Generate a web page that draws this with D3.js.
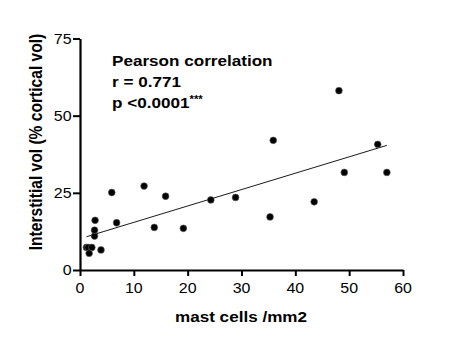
<!DOCTYPE html>
<html>
<head>
<meta charset="utf-8">
<script src="https://cdn.jsdelivr.net/npm/d3@7"></script>
<style>
  body { margin: 0; background: #fff; }
  text { font-family: "Liberation Sans", Arial, sans-serif; fill: #000; }
</style>
</head>
<body>
<div id="chart"></div>
<script>
// data
var mastCells = [1.2, 1.5, 2.2, 1.7, 2.7, 2.7, 2.8, 3.9, 5.9, 6.8, 11.9, 13.8, 15.9, 19.2, 24.3, 28.9, 35.3, 35.9, 43.5, 48.1, 49.1, 55.3, 57.0];
var interstitial = [7.3, 7.3, 7.3, 5.4, 11.0, 12.9, 16.1, 6.5, 25.1, 15.3, 27.2, 13.8, 23.9, 13.5, 22.7, 23.5, 17.2, 42.0, 22.1, 58.1, 31.6, 40.7, 31.6];
var xTicks = [0, 10, 20, 30, 40, 50, 60];
var yTicks = [0, 25, 50, 75];
var statLines = ["Pearson correlation", "r = 0.771", "p <0.0001"];

var width = 450,
    height = 340;
var stretch = 1.14; // the picture is a bit wider than tall

var svg = d3.select("#chart")
  .append("svg")
    .attr("width", width)
    .attr("height", height);

var x = d3.scaleLinear().domain([0, 60]).range([80, 403]);
var y = d3.scaleLinear().domain([0, 75]).range([270, 38.5]);

// helper for horizontally stretched text
function label(x0, y0, str, size, anchor) {
  return svg.append("text")
    .attr("transform", "translate(" + x0 + "," + y0 + ") scale(" + stretch + ",1)")
    .attr("text-anchor", anchor || "start")
    .style("font-size", size + "px")
    .text(str);
}

// axes
var xAxis = svg.append("g")
  .attr("transform", "translate(0,270)")
  .call(d3.axisBottom(x).tickValues(xTicks).tickSize(6).tickSizeOuter(0).tickFormat(""));
var yAxis = svg.append("g")
  .attr("transform", "translate(80,0)")
  .call(d3.axisLeft(y).tickValues(yTicks).tickSize(7).tickSizeOuter(0).tickFormat(""));

[xAxis, yAxis].forEach(function(a) {
  a.select(".domain").attr("stroke", "#000").attr("stroke-width", 2.2);
  a.selectAll(".tick line").attr("stroke", "#000").attr("stroke-width", 2);
});

xTicks.forEach(function(t) {
  label(x(t), 293, t, 14, "middle");
});
yTicks.forEach(function(t) {
  label(71.5, y(t) + 5, t, 14, "end");
});

// axis titles
label(241, 322, "mast cells /mm2", 15, "middle").style("font-weight", "bold");
svg.append("text")
  .attr("transform", "translate(42,142) scale(" + stretch + ",1) rotate(-90)")
  .attr("text-anchor", "middle")
  .style("font-size", "15.6px")
  .style("font-weight", "bold")
  .text("Interstitial vol (% cortical vol)");

// linear regression line
var n = mastCells.length;
var mx = d3.mean(mastCells), my = d3.mean(interstitial);
var sxy = 0, sxx = 0;
for (i = 0; i < n; i++) {
  sxy += (mastCells[i] - mx) * (interstitial[i] - my);
  sxx += (mastCells[i] - mx) * (mastCells[i] - mx);
}
var slope = sxy / sxx;
var intercept = my - slope * mx;
var xExt = d3.extent(mastCells);

svg.append("line")
  .attr("x1", x(xExt[0]))
  .attr("y1", y(intercept + slope * xExt[0]))
  .attr("x2", x(xExt[1]))
  .attr("y2", y(intercept + slope * xExt[1]))
  .attr("stroke", "#000")
  .attr("stroke-width", 0.9);

// points
svg.selectAll("circle")
  .data(mastCells)
  .enter()
  .append("circle")
    .attr("cx", function(d) { return x(d); })
    .attr("cy", function(d, i) { return y(interstitial[i]); })
    .attr("r", 3.4)
    .attr("fill", "#000")
    .attr("stroke", "#666")
    .attr("stroke-width", 0.6);

// stats annotation
statLines.forEach(function(s, i) {
  var t = label(112, 66 + i * 21, s, 15).style("font-weight", "bold");
  if (i == 2) {
    t.append("tspan")
      .attr("dy", -5)
      .style("font-size", "10px")
      .text("***");
  }
});
</script>
</body>
</html>
